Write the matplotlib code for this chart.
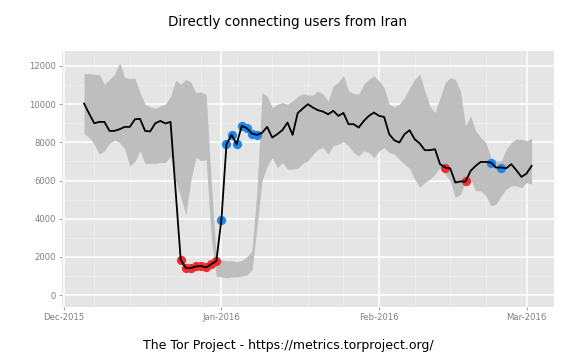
import matplotlib
matplotlib.use('Agg')
import matplotlib.pyplot as plt
import matplotlib.dates as mdates
from matplotlib.ticker import MultipleLocator, FixedLocator
import pandas as pd
import numpy as np

# ---------------- data ----------------
dates = pd.date_range('2015-12-05', '2016-03-02', freq='D')

users = [10030, 9500, 9000, 9070, 9070, 8600, 8600, 8690, 8810, 8810,
         9210, 9230, 8600, 8570, 9000, 9120, 8990, 9070, 5450, 1850,
         1420, 1420, 1500, 1520, 1450, 1620, 1780, 3940, 7900, 8390,
         7900, 8860, 8740, 8460, 8390, 8500, 8810, 8250, 8430, 8640,
         9035, 8390, 9530, 9770, 9995, 9820, 9680, 9610, 9470, 9650,
         9385, 9540, 8950, 8950, 8775, 9120, 9385, 9560, 9385, 9330,
         8425, 8110, 7990, 8425, 8635, 8165, 7940, 7590, 7590, 7640,
         6855, 6680, 6630, 5895, 5950, 5950, 6505, 6770, 6975, 6975,
         6940, 6680, 6680, 6640, 6855, 6540, 6190, 6365, 6770]

upper = [11600, 11600, 11560, 11560, 11040, 11300, 11560, 12175, 11390, 11350,
         11350, 10600, 9995, 9855, 9785, 9910, 9995, 10400, 11250, 11040,
         11300, 11150, 10600, 10650, 10500, 6000, 1950, 1850, 1800, 1800,
         1750, 1800, 2000, 2300, 5500, 10600, 10430, 9820, 9995, 10080,
         9995, 10170, 10400, 10550, 10480, 10480, 10690, 10520, 10170, 10950,
         11150, 11500, 10690, 10560, 10520, 11040, 11300, 11480, 11215, 10865,
         9995, 9855, 9995, 10340, 10865, 11300, 11580, 10700, 9900, 9560,
         10340, 11130, 11390, 11300, 10690, 8860, 9385, 8600, 8250, 7990,
         7200, 7030, 7030, 7640, 7990, 8165, 8165, 8075, 8215]

lower = [8460, 8250, 7900, 7380, 7555, 7950, 8110, 7990, 7640, 6750,
         7000, 7555, 6890, 6890, 6890, 6940, 6940, 7290, 5980, 5150,
         4200, 6020, 7220, 7030, 7100, 3000, 1000, 950, 900, 950,
         950, 1000, 1050, 1300, 3500, 6000, 6750, 7200, 6680, 6940,
         6595, 6600, 6650, 6900, 7030, 7380, 7640, 7730, 7380, 7815,
         7900, 8040, 7815, 7465, 7290, 7555, 7465, 7200, 7555, 7730,
         7465, 7380, 7100, 6850, 6650, 6070, 5650, 5900, 6070, 6330,
         6680, 6330, 5985, 5110, 5285, 5895, 6070, 5460, 5460, 5200,
         4675, 4760, 5200, 5545, 5720, 5720, 5635, 5895, 5810]

below_dates = ['2015-12-24', '2015-12-25', '2015-12-26', '2015-12-27',
               '2015-12-28', '2015-12-29', '2015-12-30', '2015-12-31',
               '2016-02-14', '2016-02-18']
above_dates = ['2016-01-01', '2016-01-02', '2016-01-03', '2016-01-04',
               '2016-01-05', '2016-01-06', '2016-01-07', '2016-01-08',
               '2016-02-23', '2016-02-25']

x_tick_dates = ['2015-12-01', '2016-01-01', '2016-02-01', '2016-03-01']
y_ticks = [0, 2000, 4000, 6000, 8000, 10000, 12000]

title = 'Directly connecting users from Iran'
caption = 'The Tor Project - https://metrics.torproject.org/'

# ---------------- figure ----------------
W, H = 576, 360
fig = plt.figure(figsize=(W / 72, H / 72), dpi=72)
left, right, top, bottom = 61.7, 554.0, 51.0, 306.7
ax = fig.add_axes([left / W, 1 - bottom / H, (right - left) / W, (bottom - top) / H])
ax.set_facecolor('#E5E5E5')
for s in ax.spines.values():
    s.set_visible(False)

df = pd.DataFrame({'date': dates, 'users': users, 'upper': upper, 'lower': lower})
df = df.set_index('date')

ax.fill_between(df.index, df['lower'], df['upper'], color='#BEBEBE', lw=0, zorder=2)

bd = pd.to_datetime(below_dates)
ad = pd.to_datetime(above_dates)
ax.scatter(bd, df.loc[bd, 'users'], s=85, color='#EE2C2C', lw=0, zorder=3)
ax.scatter(ad, df.loc[ad, 'users'], s=85, color='#1C86EE', lw=0, zorder=3)

ax.plot(df.index, df['users'], color='black', lw=1.8, zorder=4)

# limits with ggplot-like expansion
x0 = mdates.date2num(df.index[0])
x1 = mdates.date2num(df.index[-1])
dx = (x1 - x0) * 0.05
ax.set_xlim(x0 - dx, x1 + dx)
ymin = 0
ymax = max(upper)
dy = (ymax - ymin) * 0.05
ax.set_ylim(ymin - dy, ymax + dy)

# ticks and grid
ax.xaxis.set_major_locator(FixedLocator([mdates.date2num(pd.Timestamp(d)) for d in x_tick_dates]))
ax.xaxis.set_major_formatter(mdates.DateFormatter('%b-%Y'))
ax.xaxis.set_minor_locator(mdates.WeekdayLocator(byweekday=mdates.MO))
ax.yaxis.set_major_locator(FixedLocator(y_ticks))
ax.yaxis.set_minor_locator(MultipleLocator(1000))

ax.grid(which='major', color='white', lw=1.5, zorder=1)
ax.grid(which='minor', color='#F2F2F2', lw=0.6, zorder=1)
ax.set_axisbelow(True)

ax.tick_params(which='major', length=3, width=0.7, color='#7F7F7F',
               labelcolor='#7F7F7F', labelsize=8.5, pad=3)
ax.tick_params(which='minor', length=0)

fig.text(0.5, 1 - 22 / H, title, ha='center', va='center', fontsize=13.5, color='black')
fig.text(0.5, 1 - 345 / H, caption, ha='center', va='center', fontsize=12.5, color='black')

fig.savefig('out.png', dpi=72)
